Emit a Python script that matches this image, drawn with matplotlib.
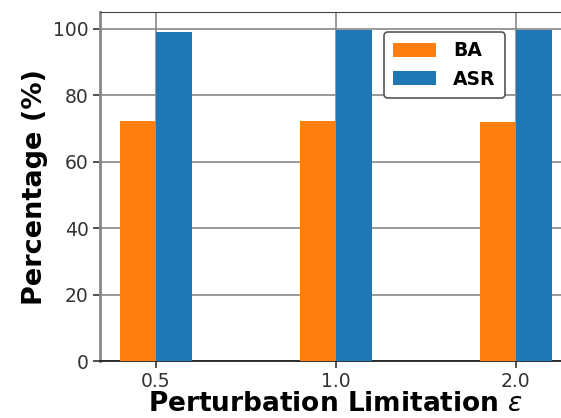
import numpy as np
import matplotlib
matplotlib.use('Agg')
import matplotlib.pyplot as plt

eps_labels = ['0.5', '1.0', '2.0']
ba = [72.2, 72.3, 72.0]
asr = [99.0, 99.7, 99.7]

x = np.arange(len(eps_labels))
w = 0.2

fig = plt.figure(figsize=(5.61, 4.18), dpi=100)
ax = fig.add_axes([0.178, 0.136, 1.019 - 0.178, 0.971 - 0.136])

ax.bar(x, ba, width=-w, align='edge', color='#ff7f0e', label='BA', zorder=3)
ax.bar(x, asr, width=w, align='edge', color='#1f77b4', label='ASR', zorder=3)

ax.set_xlim(-0.31, 2.31)
ax.set_ylim(0, 105)
ax.set_xticks(x)
ax.set_xticklabels(eps_labels)
ax.set_yticks([0, 20, 40, 60, 80, 100])
ax.tick_params(labelsize=13.5, colors='#333333', length=5, width=1.2, pad=3)
ax.grid(True, color='#888888', linewidth=1.2, zorder=0)
ax.spines['left'].set_color('#888888')
ax.spines['left'].set_linewidth(2)
ax.spines['top'].set_color('#444444')
ax.spines['bottom'].set_color('#222222')
ax.spines['bottom'].set_linewidth(1.3)

ax.set_ylabel('Percentage (%)', fontsize=19.5, fontweight='bold', labelpad=4)
ax.set_xlabel(r'Perturbation Limitation $\varepsilon$', fontsize=19, fontweight='bold', labelpad=0)

leg = ax.legend(loc='upper left', bbox_to_anchor=(0.582, 0.97), prop={'weight': 'bold', 'size': 13.5},
                handlelength=2.3, handleheight=0.8, borderpad=0.5, labelspacing=0.5,
                handletextpad=0.9, framealpha=1, edgecolor='#555555')
leg.get_frame().set_linewidth(1.2)

fig.savefig('out.png', dpi=100)
